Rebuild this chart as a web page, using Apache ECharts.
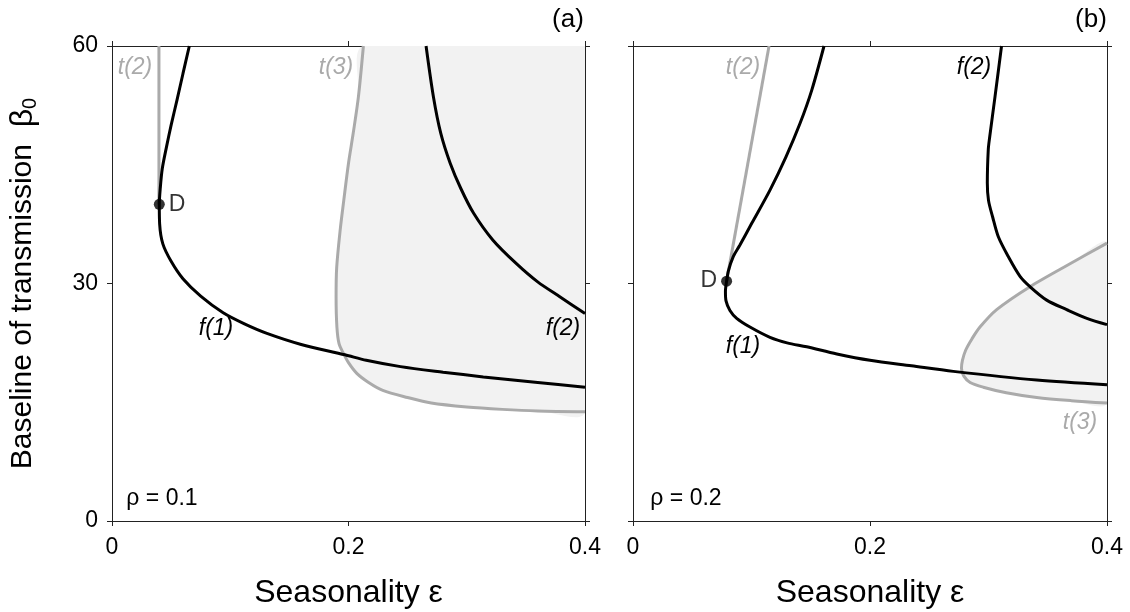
<!DOCTYPE html>
<html>
<head>
<meta charset="utf-8">
<script src="https://cdn.jsdelivr.net/npm/echarts@6/dist/echarts.min.js"></script>
<style>
  html, body { margin: 0; padding: 0; background: #fff; }
  #chart { width: 1130px; height: 612px; }
</style>
</head>
<body>
<div id="chart"></div>
<script>
// Axis ticks
const xTicks = [0, 0.2, 0.4];
const yTicks = [0, 30, 60];

// Panel (a), rho = 0.1 : [seasonality, beta0]
const aF1 = [[0.0654,60],[0.060,56.5],[0.055,53.2],[0.050,50.0],[0.046,47.2],[0.0425,44.5],[0.0408,42],[0.0400,40],
  [0.0403,37.5],[0.043,35],[0.050,32.8],[0.060,30.6],[0.075,28.4],[0.094,26.3],[0.112,24.9],[0.131,23.7],[0.160,22.3],
  [0.197,21.0],[0.215,20.3],[0.244,19.5],[0.280,18.8],[0.314,18.2],[0.360,17.5],[0.400,16.9]];
const aT2 = [[0.0397,60],[0.0397,40]];
const aF2 = [[0.2656,60],[0.2718,53.6],[0.278,49],[0.286,45.2],[0.295,42],[0.3057,38.9],[0.322,35.5],[0.342,32.5],
  [0.360,30.2],[0.379,28.3],[0.400,26.2]];
const aT3 = [[0.2126,60],[0.2084,53.6],[0.204,49],[0.200,45.2],[0.196,40.5],[0.193,36.8],[0.190,32],[0.1895,28.3],
  [0.1902,24.5],[0.192,22.4],[0.1956,21.2],[0.200,20.0],[0.207,18.65],[0.217,17.5],[0.229,16.5],[0.250,15.6],
  [0.270,14.9],[0.300,14.4],[0.330,14.1],[0.360,13.9],[0.400,13.8]];
const aD = [0.04, 40];

// Panel (b), rho = 0.2
const bT2 = [[0.079,30.3],[0.1148,60]];
const bF1 = [[0.1612,60],[0.1508,54.4],[0.1409,50.2],[0.1291,46.0],[0.1156,41.8],[0.1002,37.6],[0.0900,34.8],
  [0.0846,33.4],[0.0805,31.6],[0.0790,30.3],[0.0780,29.0],[0.0785,27.8],[0.0818,26.6],[0.0875,25.6],[0.0987,24.5],
  [0.1156,23.2],[0.1300,22.5],[0.1466,22.0],[0.172,21.1],[0.200,20.3],[0.235,19.6],[0.2703,18.9],[0.3407,17.8],[0.400,17.2]];
const bF2 = [[0.311,60],[0.3055,53.6],[0.3010,48.5],[0.2998,46.9],[0.2990,42.7],[0.3000,40.5],[0.3035,38.4],
  [0.3083,35.9],[0.3167,33.4],[0.3266,30.9],[0.3350,29.6],[0.3491,27.9],[0.3660,26.7],[0.3830,25.6],[0.400,24.8]];
const bT3 = [[0.400,35.1],[0.3688,32.5],[0.3350,29.6],[0.3069,26.7],[0.2928,24.5],[0.2860,23.0],[0.2808,21.6],
  [0.2780,20.3],[0.2772,19.3],[0.2792,18.3],[0.2845,17.5],[0.2956,16.9],[0.315,16.2],[0.3407,15.6],[0.370,15.2],[0.400,14.9]];
const bD = [0.079, 30.3];

// Closed outlines of the shaded regions
const aRegion = aT3.concat([[0.4, 60]]);
const bRegion = bT3.slice();

const FONT = "'Liberation Sans', Arial, sans-serif";
const BLACK = '#000';
const GRAY = '#aaaaaa';
const SHADE = '#f2f2f2';
const AXIS = '#222';

const xMin = xTicks[0], xMax = xTicks[xTicks.length - 1];
const yMin = yTicks[0], yMax = yTicks[yTicks.length - 1];
const xInt = xTicks[1] - xTicks[0], yInt = yTicks[1] - yTicks[0];

function xAxisCfg(grid, pos, labels, name) {
  return {
    type: 'value', gridIndex: grid, position: pos, min: xMin, max: xMax, interval: xInt,
    axisLine: { show: true, onZero: false, lineStyle: { color: AXIS, width: 1 } },
    axisTick: { show: true, length: 5, lineStyle: { color: AXIS } },
    axisLabel: { show: labels, fontSize: 23, color: '#000', fontFamily: FONT, margin: 15,
      formatter: v => (v === 0 ? '0' : String(+v.toFixed(1))) },
    splitLine: { show: false },
    name: name || '', nameLocation: 'middle', nameGap: 56,
    nameTextStyle: { fontSize: 32, color: '#000', fontFamily: FONT }
  };
}
function yAxisCfg(grid, pos, labels, name) {
  return {
    type: 'value', gridIndex: grid, position: pos, min: yMin, max: yMax, interval: yInt,
    axisLine: { show: true, onZero: false, lineStyle: { color: AXIS, width: 1 } },
    axisTick: { show: true, length: 5, lineStyle: { color: AXIS } },
    axisLabel: { show: labels, fontSize: 23, color: '#000', fontFamily: FONT, margin: 14 },
    splitLine: { show: false },
    name: name || '', nameLocation: 'middle', nameGap: 72,
    nameTextStyle: { fontSize: 30, color: '#000', fontFamily: FONT,
      rich: { sub: { fontSize: 20, fontFamily: FONT, padding: [14, 0, 0, 0] },
              b: { fontSize: 32, fontFamily: FONT } } }
  };
}

function line(idx, data, color) {
  return {
    type: 'line', xAxisIndex: idx * 2, yAxisIndex: idx * 2, data: data,
    showSymbol: false, smooth: 0.3, silent: true, z: 3,
    lineStyle: { color: color, width: 3 }
  };
}
function shade(idx, data) {
  return {
    type: 'custom', xAxisIndex: idx * 2, yAxisIndex: idx * 2, data: [0], silent: true, z: 1, clip: true,
    renderItem: (params, api) => ({
      type: 'polygon',
      shape: { points: data.map(p => api.coord(p)), smooth: 0.3 },
      style: { fill: SHADE }
    })
  };
}
function dot(idx, p, pos) {
  return {
    type: 'scatter', xAxisIndex: idx * 2, yAxisIndex: idx * 2, data: [p], symbolSize: 11, z: 5, silent: true,
    itemStyle: { color: '#000' },
    label: { show: true, formatter: 'D', position: pos, distance: 4, fontSize: 23, color: '#000', fontFamily: FONT }
  };
}
function txt(x, y, s, color, italic, size) {
  return { type: 'text', x: x, y: y, z: 10,
    style: { text: s, fill: color, fontSize: size || 23, fontFamily: FONT, fontStyle: italic ? 'italic' : 'normal',
      textAlign: 'center', textVerticalAlign: 'middle' } };
}

const chart = echarts.init(document.getElementById('chart'), null, { renderer: 'canvas' });
chart.setOption({
  animation: false,
  backgroundColor: '#fff',
  grid: [
    { left: 112, top: 46, width: 473, height: 475, outerBoundsMode: 'none', containLabel: false },
    { left: 633, top: 46, width: 474, height: 475, outerBoundsMode: 'none', containLabel: false }
  ],
  xAxis: [
    xAxisCfg(0, 'bottom', true, 'Seasonality ε'), xAxisCfg(0, 'top', false),
    xAxisCfg(1, 'bottom', true, 'Seasonality ε'), xAxisCfg(1, 'top', false)
  ],
  yAxis: [
    yAxisCfg(0, 'left', true, 'Baseline of transmission  {b|β}{sub|0}'), yAxisCfg(0, 'right', false),
    yAxisCfg(1, 'left', false), yAxisCfg(1, 'right', false)
  ],
  series: [
    shade(0, aRegion),
    line(0, aT2, GRAY), line(0, aT3, GRAY), line(0, aF1, BLACK), line(0, aF2, BLACK),
    dot(0, aD, 'right'),
    shade(1, bRegion),
    line(1, bT2, GRAY), line(1, bT3, GRAY), line(1, bF1, BLACK), line(1, bF2, BLACK),
    dot(1, bD, 'left')
  ],
  graphic: [
    txt(568, 20, '(a)', '#000', false, 26),
    txt(1091, 20, '(b)', '#000', false, 26),
    txt(135, 68, 't(2)', GRAY, true),
    txt(336, 68, 't(3)', GRAY, true),
    txt(216, 329, 'f(1)', '#000', true),
    txt(563, 329, 'f(2)', '#000', true),
    txt(162, 499, 'ρ = 0.1', '#000', false),
    txt(743, 68, 't(2)', GRAY, true),
    txt(974, 68, 'f(2)', '#000', true),
    txt(743, 347, 'f(1)', '#000', true),
    txt(1080, 423, 't(3)', GRAY, true),
    txt(686, 499, 'ρ = 0.2', '#000', false)
  ]
});
</script>
</body>
</html>
